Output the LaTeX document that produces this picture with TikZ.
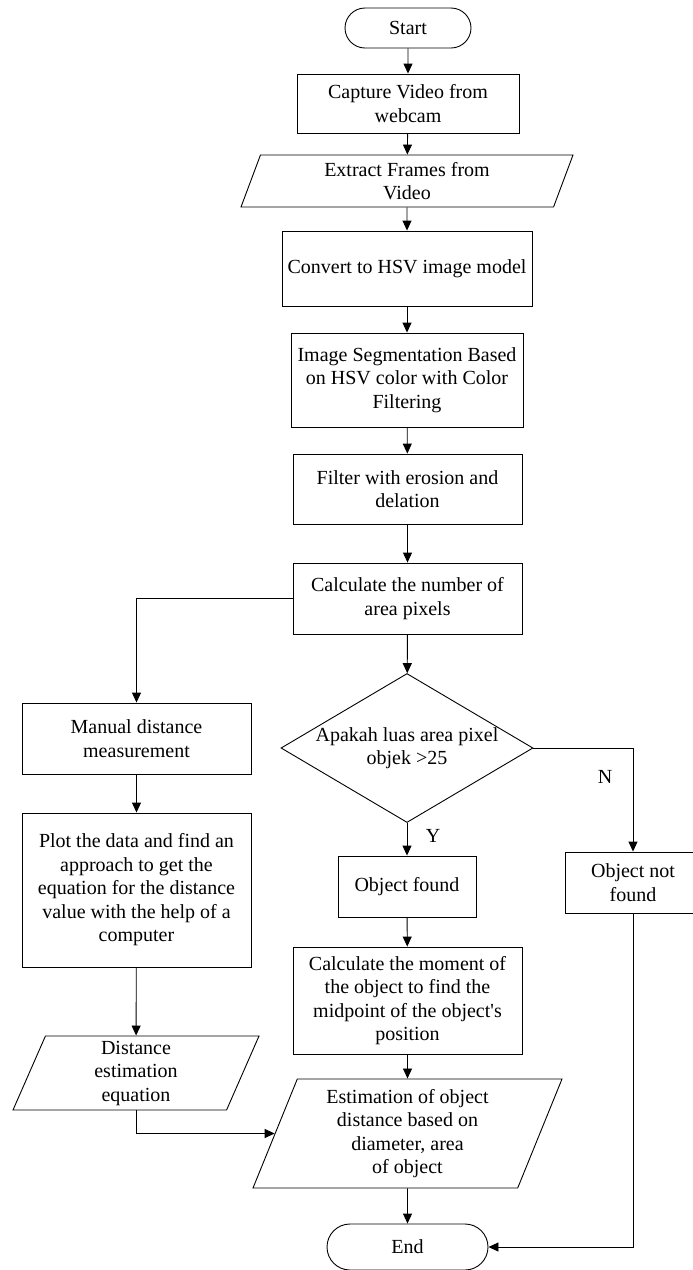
\documentclass[tikz,border=0pt]{standalone}
\usepackage{fontspec}
\setmainfont{Liberation Serif}
\usetikzlibrary{shapes.geometric,shapes.misc,arrows.meta}

\begin{document}
\begin{tikzpicture}[x=1pt,y=-1pt,line width=0.9pt,
  every node/.style={font=\fontsize{20}{23.5}\selectfont,align=center,inner sep=1pt},
  box/.style={draw,rectangle},
  term/.style={draw,rounded rectangle},
  io/.style={draw,trapezium,trapezium left angle=64,trapezium right angle=116,trapezium stretches body},
  decision/.style={draw,diamond,inner sep=0pt},
  >={Triangle[length=10pt,width=9pt]}]
\useasboundingbox (0,0) rectangle (693,1270);

\node[term,minimum width=128pt,minimum height=40pt] (start) at (408,28) {Start};
\node[box,minimum width=222pt,minimum height=59pt] (capture) at (408,103.5) {Capture Video from\\webcam};
\node[io,minimum width=332pt,minimum height=52pt] (extract) at (407,181) {Extract Frames from\\Video};
\node[box,minimum width=250pt,minimum height=75pt] (convert) at (407,268.5) {Convert to HSV image model};
\node[box,minimum width=232pt,minimum height=94pt] (segment) at (407,380) {Image Segmentation Based\\on HSV color with Color\\Filtering};
\node[box,minimum width=229pt,minimum height=70pt] (filter) at (407.5,489) {Filter with erosion and\\delation};
\node[box,minimum width=229pt,minimum height=71pt] (countpx) at (407.5,598.5) {Calculate the number of\\area pixels};
\node[box,minimum width=229pt,minimum height=71pt] (manual) at (136.5,738.5) {Manual distance\\measurement};
\node[box,minimum width=229pt,minimum height=154pt] (plot) at (136.5,890) {Plot the data and find an\\approach to get the\\equation for the distance\\value with the help of a\\computer};
\node[io,minimum width=246pt,minimum height=74pt] (disteq) at (136,1073) {Distance\\estimation\\equation};
\node[decision,minimum width=252pt,minimum height=149pt,label={[align=center]center:Apakah luas area pixel\\objek >25}] (check) at (407,748) {};
\node[box,minimum width=138pt,minimum height=61pt] (found) at (407,886.5) {Object found};
\node[box,minimum width=136pt,minimum height=61pt] (notfound) at (633,882.5) {Object not\\found};
\node[box,minimum width=229pt,minimum height=107pt] (moment) at (407.5,1000.5) {Calculate the moment of\\the object to find the\\midpoint of the object\textquotesingle s\\position};
\node[io,minimum width=309pt,minimum height=109pt] (estim) at (407.5,1133.5) {Estimation of object\\distance based on\\diameter, area\\of object};
\node[term,minimum width=163pt,minimum height=46pt] (stop) at (407.5,1247) {End};
\node (yes) at (433,836) {Y};
\node (no) at (605,777) {N};

\draw[->] (start) -- (capture); \draw[->] (capture) -- (extract); \draw[->] (extract) -- (convert); \draw[->] (convert) -- (segment); \draw[->] (segment) -- (filter); \draw[->] (filter) -- (countpx); \draw[->] (countpx) -- (check); \draw[->] (countpx.west) -| (manual.north); \draw[->] (manual) -- (plot); \draw[->] (plot) -- (disteq); \draw[->] (check) -- (found); \draw[->] (check.east) -| (notfound.north); \draw[->] (found) -- (moment); \draw[->] (moment) -- (estim); \draw[->] (disteq.south) |- (estim.left side); \draw[->] (estim) -- (stop); \draw[->] (notfound.south) |- (stop.east);
\end{tikzpicture}
\end{document}
